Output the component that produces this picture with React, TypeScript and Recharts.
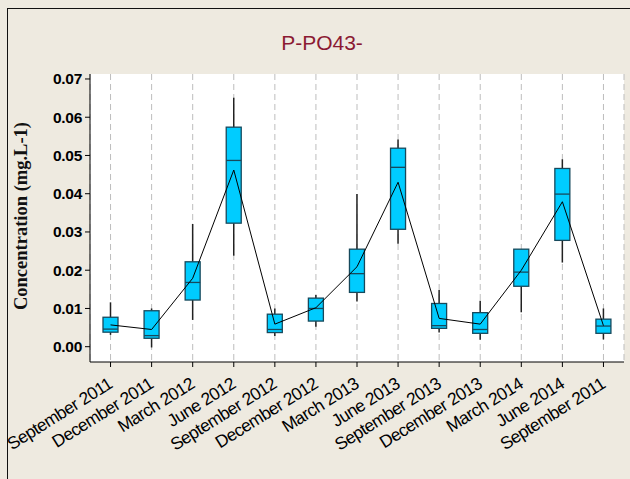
import React from "react";
import {
  ComposedChart,
  Bar,
  Line,
  XAxis,
  YAxis,
  CartesianGrid,
  Label,
} from "recharts";

const categories = [
  "September 2011",
  "December 2011",
  "March 2012",
  "June 2012",
  "September 2012",
  "December 2012",
  "March 2013",
  "June 2013",
  "September 2013",
  "December 2013",
  "March 2014",
  "June 2014",
  "September 2011",
];
const mins = [0.0031, -0.0002, 0.007, 0.0238, 0.0028, 0.0052, 0.0118, 0.0269, 0.0037, 0.0018, 0.009, 0.022, 0.0019];
const q1s = [0.0038, 0.0022, 0.0122, 0.0323, 0.0037, 0.0067, 0.0142, 0.0307, 0.0048, 0.0035, 0.0158, 0.0278, 0.0035];
const medians = [0.0046, 0.0029, 0.0168, 0.0487, 0.0045, 0.01, 0.0191, 0.0469, 0.0055, 0.0045, 0.0195, 0.0399, 0.0054];
const q3s = [0.0077, 0.0094, 0.0222, 0.0574, 0.0085, 0.0127, 0.0255, 0.0519, 0.0113, 0.0089, 0.0255, 0.0466, 0.0072];
const maxs = [0.0116, 0.01, 0.0321, 0.0651, 0.01, 0.0135, 0.0399, 0.0542, 0.0148, 0.012, 0.0255, 0.049, 0.01];
const means = [0.0057, 0.0045, 0.0179, 0.0462, 0.0059, 0.0102, 0.0209, 0.043, 0.0074, 0.0059, 0.02, 0.0379, 0.0055];
const yTicks = [0, 0.01, 0.02, 0.03, 0.04, 0.05, 0.06, 0.07];

const title = "P-PO43-";
const yTitle = "Concentration (mg.L-1)";

const data = categories.map((label, i) => ({
  label,
  box: [q1s[i], q3s[i]],
  min: mins[i],
  q1: q1s[i],
  median: medians[i],
  q3: q3s[i],
  max: maxs[i],
  mean: means[i],
}));

const Y_DOMAIN: [number, number] = [-0.004, 0.0713];

const BoxShape = (props: any) => {
  const { x, y, width, height, payload } = props;
  if (x == null || y == null) return null;
  const top = Math.min(y, y + height);
  const h = Math.abs(height);
  const span = payload.q3 - payload.q1;
  const k = span > 0 ? h / span : 0;
  const py = (v: number) => top + (payload.q3 - v) * k;
  const cx = x + width / 2;
  return (
    <g>
      <line x1={cx} x2={cx} y1={py(payload.max)} y2={top} stroke="#222" strokeWidth={1.5} />
      <line x1={cx} x2={cx} y1={top + h} y2={py(payload.min)} stroke="#222" strokeWidth={1.5} />
      <rect x={x} y={top} width={width} height={h} fill="#00CCFF" stroke="#17495c" strokeWidth={1.3} />
      <line x1={x} x2={x + width} y1={py(payload.median)} y2={py(payload.median)} stroke="#17495c" strokeWidth={1.3} />
    </g>
  );
};

const XTick = (props: any) => {
  const { x, y, payload } = props;
  return (
    <g transform={`translate(${x + 3},${y + 20})`}>
      <text
        textAnchor="end"
        transform="rotate(-32)"
        fontFamily="'Liberation Sans', Arial, sans-serif"
        fontSize={17.5}
        letterSpacing={-0.6}
        fill="#000"
      >
        {payload.value}
      </text>
    </g>
  );
};

const YTitle = (props: any) => {
  const { viewBox } = props;
  const cx = viewBox.x + 21;
  const cy = viewBox.y + viewBox.height / 2 - 2;
  return (
    <text
      x={cx}
      y={cy}
      transform={`rotate(-90, ${cx}, ${cy})`}
      textAnchor="middle"
      dominantBaseline="central"
      fontFamily="'Liberation Serif', 'Times New Roman', serif"
      fontWeight="bold"
      fontSize={18.5}
      fill="#111"
    >
      {yTitle}
    </text>
  );
};

export default function App() {
  return (
    <div
      style={{
        position: "absolute",
        left: 0,
        top: 0,
        width: 630,
        height: 479,
        background: "#EEEAE0",
        overflow: "hidden",
      }}
    >
      <div
        style={{
          position: "absolute",
          left: 7,
          top: 8,
          width: 700,
          height: 600,
          borderLeft: "1px solid #111",
          borderTop: "1px solid #111",
        }}
      />
      <div
        style={{
          position: "absolute",
          left: 222,
          top: 31,
          width: 200,
          textAlign: "center",
          fontFamily: "'Liberation Sans', Arial, sans-serif",
          fontSize: 21,
          color: "#8B1A33",
        }}
      >
        {title}
      </div>
      <div style={{ position: "absolute", left: 0, top: 0 }}>
        <ComposedChart
          width={630}
          height={479}
          data={data}
          margin={{ top: 74, right: 6, left: 0, bottom: 57 }}
        >
          <CartesianGrid
            horizontal={false}
            vertical
            stroke="#bdbdbd"
            strokeDasharray="6 4"
            fill="#ffffff"
            fillOpacity={1}
          />
          <XAxis
            dataKey="label"
            height={60}
            interval={0}
            tickSize={5}
            tickMargin={0}
            stroke="#000"
            tickLine={{ stroke: "#000" }}
            tick={<XTick />}
          />
          <XAxis
            xAxisId="top"
            dataKey="label"
            orientation="top"
            height={0}
            tick={false}
            tickLine={false}
            stroke="#000"
          />
          <YAxis
            width={90}
            domain={Y_DOMAIN}
            allowDataOverflow
            ticks={yTicks}
            tickFormatter={(v: number) => v.toFixed(2)}
            tickSize={5}
            tickMargin={3}
            stroke="#000"
            tick={{
              fill: "#000",
              fontFamily: "'Liberation Sans', Arial, sans-serif",
              fontWeight: "bold",
              fontSize: 15.5,
              letterSpacing: -0.3,
            }}
          >
            <Label content={<YTitle />} />
          </YAxis>
          <YAxis
            yAxisId="right"
            orientation="right"
            width={0}
            domain={Y_DOMAIN}
            allowDataOverflow
            tick={false}
            tickLine={false}
            stroke="#000"
          />
          <Bar dataKey="box" barSize={15} shape={<BoxShape />} isAnimationActive={false} />
          <Line
            dataKey="mean"
            type="linear"
            stroke="#000"
            strokeWidth={1}
            dot={false}
            activeDot={false}
            isAnimationActive={false}
          />
        </ComposedChart>
      </div>
    </div>
  );
}
